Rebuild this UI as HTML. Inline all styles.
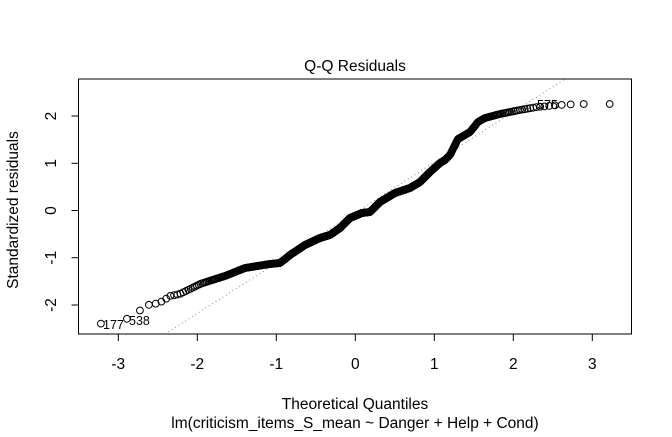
<!DOCTYPE html>
<html><head><meta charset="utf-8"><style>
html,body{margin:0;padding:0;background:#fff}
svg text{font-family:"Liberation Sans",Arial,sans-serif;fill:#000}
</style></head><body>
<svg id="s" width="672" height="432" viewBox="0 0 672 432" xmlns="http://www.w3.org/2000/svg">
<rect x="0" y="0" width="672" height="432" fill="#fff"/>
<line x1="165" y1="334" x2="565" y2="79" stroke="#888" stroke-width="1" stroke-dasharray="1,3"/>
<g id="pts" fill="none" stroke="#000" stroke-width="1"></g>
<rect x="78.5" y="79" width="553" height="255" fill="none" stroke="#000" stroke-width="1"/>
<g stroke="#000" stroke-width="1">
<line x1="118.3" y1="334" x2="118.3" y2="341"/>
<line x1="197.3" y1="334" x2="197.3" y2="341"/>
<line x1="276.3" y1="334" x2="276.3" y2="341"/>
<line x1="355.3" y1="334" x2="355.3" y2="341"/>
<line x1="434.3" y1="334" x2="434.3" y2="341"/>
<line x1="513.3" y1="334" x2="513.3" y2="341"/>
<line x1="592.3" y1="334" x2="592.3" y2="341"/>
<line x1="78.5" y1="116" x2="71.5" y2="116"/>
<line x1="78.5" y1="163.3" x2="71.5" y2="163.3"/>
<line x1="78.5" y1="210.5" x2="71.5" y2="210.5"/>
<line x1="78.5" y1="257.7" x2="71.5" y2="257.7"/>
<line x1="78.5" y1="305" x2="71.5" y2="305"/>
</g>
<g font-size="15.5" text-anchor="middle">
<text x="118.3" y="369">-3</text><text x="197.3" y="369">-2</text><text x="276.3" y="369">-1</text>
<text x="355.3" y="369">0</text><text x="434.3" y="369">1</text><text x="513.3" y="369">2</text><text x="592.3" y="369">3</text>
<text transform="translate(56,116) rotate(-90)">2</text>
<text transform="translate(56,163.3) rotate(-90)">1</text>
<text transform="translate(56,210.5) rotate(-90)">0</text>
<text transform="translate(56,257.7) rotate(-90)">-1</text>
<text transform="translate(56,305) rotate(-90)">-2</text>
<text x="355" y="71">Q-Q Residuals</text>
<text x="355" y="409">Theoretical Quantiles</text>
<text x="355" y="428">lm(criticism_items_S_mean ~ Danger + Help + Cond)</text>
<text transform="translate(18,210) rotate(-90)">Standardized residuals</text>
</g>
<g font-size="12.5">
<text x="103" y="329">177</text>
<text x="129" y="325">538</text>
<text x="537" y="109">575</text>
</g>
</svg>
<script>
(function(){
var P=[[98,324],[125,320],[138,312],[147,305],[155,304],[163,301],[170,296],[180,294],[200,284],[225,276],[245,268],[270,264],[280,263],[290,255],[305,245],[320,238],[330,235],[340,228],[350,218],[362,213],[370,212],[380,202],[395,193],[410,188],[420,182],[430,172],[440,163],[445,160],[450,155],[458,139],[465,135],[470,132],[478,122],[485,118],[500,114],[520,110],[537,107],[560,105],[577,104],[612,104]];
function yAt(x){if(x<=P[0][0])return P[0][1];for(var i=1;i<P.length;i++){if(x<=P[i][0]){var a=P[i-1],b=P[i],t=(x-a[0])/(b[0]-a[0]);return a[1]+t*(b[1]-a[1]);}}return P[P.length-1][1];}
function qnorm(p){var a=[-39.6968302866538,220.946098424521,-275.928510446969,138.357751867269,-30.6647980661472,2.50662827745924],b=[-54.4760987982241,161.585836858041,-155.698979859887,66.8013118877197,-13.2806815528857],c=[-0.00778489400243029,-0.322396458041136,-2.40075827716184,-2.54973253934373,4.37466414146497,2.93816398269878],d=[0.00778469570904146,0.32246712907004,2.445134137143,3.75440866190742],pl=0.02425,q,r;
if(p<pl){q=Math.sqrt(-2*Math.log(p));return(((((c[0]*q+c[1])*q+c[2])*q+c[3])*q+c[4])*q+c[5])/((((d[0]*q+d[1])*q+d[2])*q+d[3])*q+1);}
if(p>1-pl){q=Math.sqrt(-2*Math.log(1-p));return-(((((c[0]*q+c[1])*q+c[2])*q+c[3])*q+c[4])*q+c[5])/((((d[0]*q+d[1])*q+d[2])*q+d[3])*q+1);}
q=p-0.5;r=q*q;return(((((a[0]*r+a[1])*r+a[2])*r+a[3])*r+a[4])*r+a[5])*q/(((((b[0]*r+b[1])*r+b[2])*r+b[3])*r+b[4])*r+1);}
var N=780,g=document.getElementById('pts'),h='';
for(var i=1;i<=N;i++){var p=(i-0.5)/N;var x=355.3+79*qnorm(p);h+='<circle cx="'+x.toFixed(1)+'" cy="'+yAt(x).toFixed(1)+'" r="3.4"/>';}
g.innerHTML=h;
})();
</script>
</body></html>
